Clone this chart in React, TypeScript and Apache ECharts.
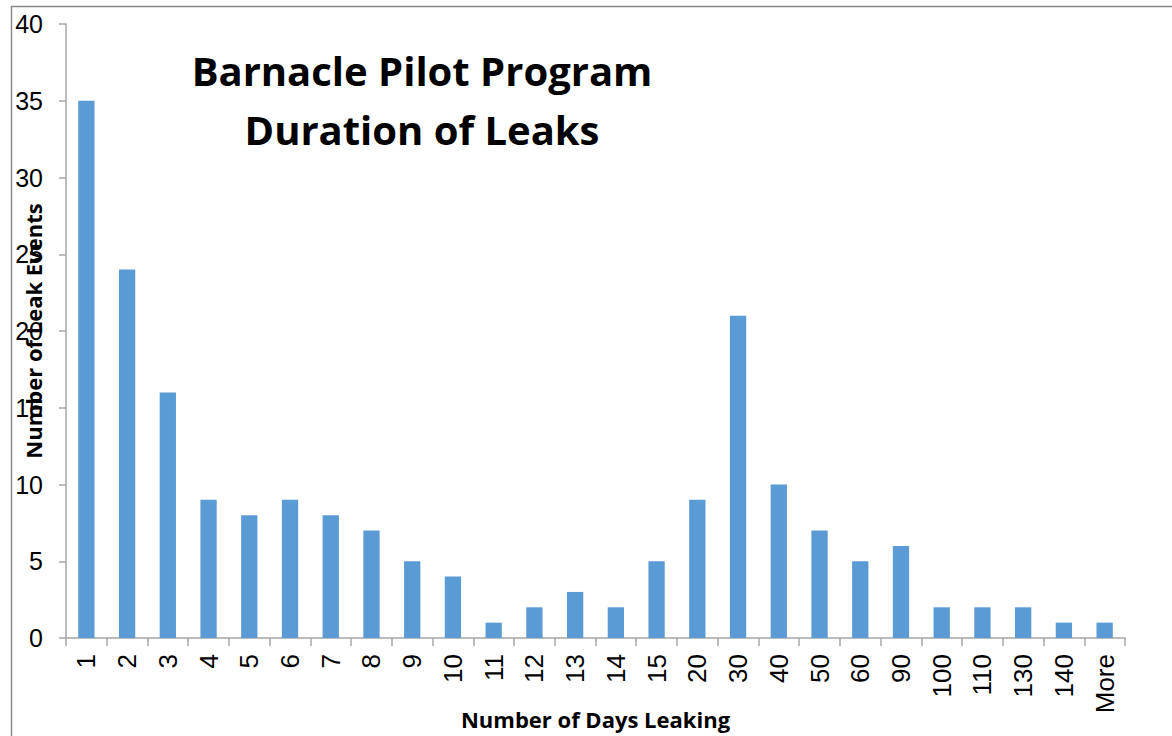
import React, { useEffect, useRef } from "react";
import * as echarts from "echarts";

const categories = ["1","2","3","4","5","6","7","8","9","10","11","12","13","14","15","20","30","40","50","60","90","100","110","130","140","More"];
const leakEvents = [35,24,16,9,8,9,8,7,5,4,1,2,3,2,5,9,21,10,7,5,6,2,2,2,1,1];
const titleLines = ["Barnacle Pilot Program", "Duration of Leaks"];
const yAxisName = "Number of Leak Events";
const xAxisName = "Number of Days Leaking";

const FONT = "'Open Sans', 'Noto Sans', sans-serif";
const TICK_FONT = "'Liberation Sans', Arial, sans-serif";

export default function App() {
  const ref = useRef<HTMLDivElement>(null);
  useEffect(() => {
    if (!ref.current) return;
    const chart = echarts.init(ref.current, undefined, { renderer: "svg" });
    chart.setOption({
      animation: false,
      backgroundColor: "#ffffff",
      textStyle: { fontFamily: FONT },
      title: {
        text: titleLines.join("\n"),
        left: 417,
        top: 36,
        textAlign: "center",
        textStyle: { fontFamily: FONT, fontWeight: "bold", fontSize: 40, lineHeight: 59, color: "#000" },
      },
      graphic: [
        {
          type: "rect",
          shape: { x: 11.5, y: 6.5, width: 1200, height: 800 },
          style: { fill: "none", stroke: "#8a8a8a", lineWidth: 1.5 },
          silent: true,
          z: -1,
        },
      ],
      grid: { left: 66, right: 47, top: 24, bottom: 98, containLabel: false, outerBoundsMode: "none" },
      xAxis: {
        type: "category",
        data: categories,
        name: xAxisName,
        nameLocation: "middle",
        nameGap: 70,
        nameMoveOverlap: false,
        nameTextStyle: { fontFamily: FONT, fontWeight: "bold", fontSize: 22, color: "#000" },
        axisLine: { show: true, lineStyle: { color: "#a6a6a6", width: 1.5 } },
        axisTick: { show: true, alignWithLabel: false, length: 8, lineStyle: { color: "#a6a6a6", width: 1.5 } },
        axisLabel: { rotate: 90, margin: 16, fontSize: 26, color: "#000", fontFamily: TICK_FONT, interval: 0 },
      },
      yAxis: {
        type: "value",
        min: 0,
        max: 40,
        interval: 5,
        name: yAxisName,
        nameLocation: "middle",
        nameGap: 22,
        nameMoveOverlap: false,
        nameTextStyle: { fontFamily: FONT, fontWeight: "bold", fontSize: 22, color: "#000" },
        axisLine: { show: true, lineStyle: { color: "#a6a6a6", width: 1.5 } },
        axisTick: { show: true, length: 7, lineStyle: { color: "#a6a6a6", width: 1.5 } },
        axisLabel: { margin: 23, fontSize: 25, color: "#000", fontFamily: TICK_FONT },
        splitLine: { show: false },
      },
      series: [
        {
          type: "bar",
          data: leakEvents,
          barWidth: "40%",
          itemStyle: { color: "#5b9bd5" },
        },
      ],
    });
    return () => chart.dispose();
  }, []);
  return <div ref={ref} style={{ position: "fixed", left: 0, top: 0, width: 1172, height: 736 }} />;
}
